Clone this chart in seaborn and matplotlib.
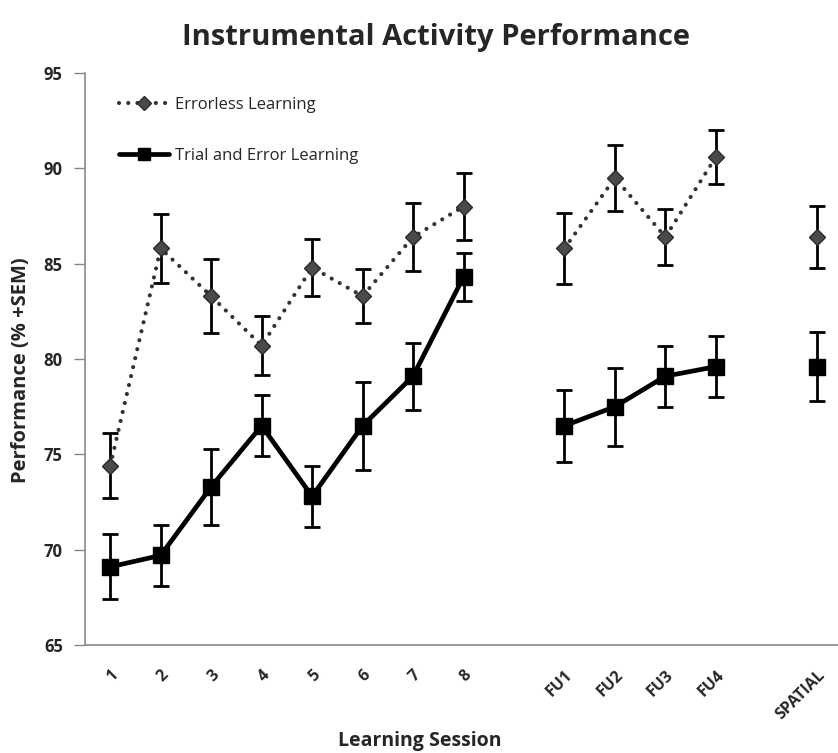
import numpy as np
import pandas as pd
import seaborn as sns
import matplotlib.pyplot as plt
from matplotlib.lines import Line2D

# x categories (blank entries are the gaps between blocks)
sessions = ['1', '2', '3', '4', '5', '6', '7', '8', '',
            'FU1', 'FU2', 'FU3', 'FU4', '', 'SPATIAL']
blocks = [1, 1, 1, 1, 1, 1, 1, 1, 0, 2, 2, 2, 2, 0, 3]

errorless = [74.4, 85.8, 83.3, 80.7, 84.8, 83.3, 86.4, 88.0, np.nan,
             85.8, 89.5, 86.4, 90.6, np.nan, 86.4]
errorless_sem = [1.7, 1.8, 1.95, 1.55, 1.5, 1.4, 1.8, 1.75, np.nan,
                 1.85, 1.75, 1.45, 1.4, np.nan, 1.65]
trial = [69.1, 69.7, 73.3, 76.5, 72.8, 76.5, 79.1, 84.3, np.nan,
         76.5, 77.5, 79.1, 79.6, np.nan, 79.6]
trial_sem = [1.7, 1.6, 2.0, 1.6, 1.6, 2.3, 1.75, 1.25, np.nan,
             1.9, 2.05, 1.6, 1.6, np.nan, 1.8]


def build_df():
    pos = np.arange(1, len(sessions) + 1)
    rows = []
    for name, vals, sems in [('Errorless Learning', errorless, errorless_sem),
                             ('Trial and Error Learning', trial, trial_sem)]:
        for p, b, v, s in zip(pos, blocks, vals, sems):
            if b == 0:
                continue
            rows.append({'pos': p, 'block': b, 'group': name, 'perf': v, 'err': s})
    return pd.DataFrame(rows)


def main():
    sns.set_style('white')
    plt.rcParams['font.family'] = ['Open Sans', 'DejaVu Sans']
    df = build_df()

    fig = plt.figure(figsize=(8.38, 7.53), dpi=100)
    ax = fig.add_axes([0.1014, 0.1434, 0.8986, 0.7596])

    styles = {
        'Errorless Learning': dict(color='#333333', ls=(0, (0.01, 2.2)), marker='D',
                                   ms=8, lw=3.0, mfc='#4a4a4a', mec='#2a2a2a'),
        'Trial and Error Learning': dict(color='black', ls='-', marker='s',
                                         ms=11, lw=3.4, mfc='black', mec='black'),
    }

    for name, st in styles.items():
        sub = df[df['group'] == name]
        ax.errorbar(sub['pos'], sub['perf'], yerr=sub['err'], fmt='none', ecolor='black',
                    elinewidth=2, capsize=6, capthick=2, zorder=2)
        n_before = len(ax.lines)
        sns.lineplot(data=sub, x='pos', y='perf', units='block', estimator=None,
                     color=st['color'], linewidth=st['lw'], ax=ax, zorder=3,
                     legend=False)
        for ln in ax.lines[n_before:]:
            ln.set_linestyle(st['ls'])
            ln.set_dash_capstyle('round')
        ax.plot(sub['pos'], sub['perf'], ls='none', marker=st['marker'], ms=st['ms'],
                mfc=st['mfc'], mec=st['mec'], zorder=4)

    ax.set_xlim(0.5, 15.42)
    ax.set_ylim(65, 95)
    ax.set_yticks(range(65, 96, 5))
    ax.set_xticks(np.arange(1, len(sessions) + 1))
    ax.set_xticklabels(sessions, rotation=45, ha='right', rotation_mode='anchor',
                       fontsize=11.5, fontweight='bold')
    for lab in ax.get_yticklabels():
        lab.set_fontsize(12)
        lab.set_fontweight('bold')
    ax.tick_params(axis='x', length=0, pad=16)
    ax.tick_params(axis='y', left=True, length=8, width=1, color='#888888',
                   direction='out', pad=8)

    for side in ['top', 'right']:
        ax.spines[side].set_visible(False)
    for side in ['left', 'bottom']:
        ax.spines[side].set_color('#8a8a8a')
        ax.spines[side].set_linewidth(1.2)

    ax.set_xlabel('Learning Session', fontsize=14, fontweight='bold')
    ax.set_ylabel('Performance (% +SEM)', fontsize=14.5, fontweight='bold')
    ax.xaxis.set_label_coords(0.445, -0.15)
    ax.yaxis.set_label_coords(-0.072, 0.48)
    fig.suptitle('Instrumental Activity Performance', fontsize=21, fontweight='bold',
                 x=0.52, y=0.97)

    handles = []
    for name, st in styles.items():
        handles.append(Line2D([], [], color=st['color'], ls=st['ls'], lw=st['lw'],
                              marker=st['marker'], ms=st['ms'] * 0.85, mfc=st['mfc'],
                              mec=st['mec'], dash_capstyle='round'))
    ax.legend(handles, list(styles.keys()), loc='upper left',
              bbox_to_anchor=(0.025, 0.985), frameon=False, fontsize=12,
              handlelength=3.0, handletextpad=0.4, labelspacing=2.1)

    plt.savefig('out.png', dpi=100)


main()
